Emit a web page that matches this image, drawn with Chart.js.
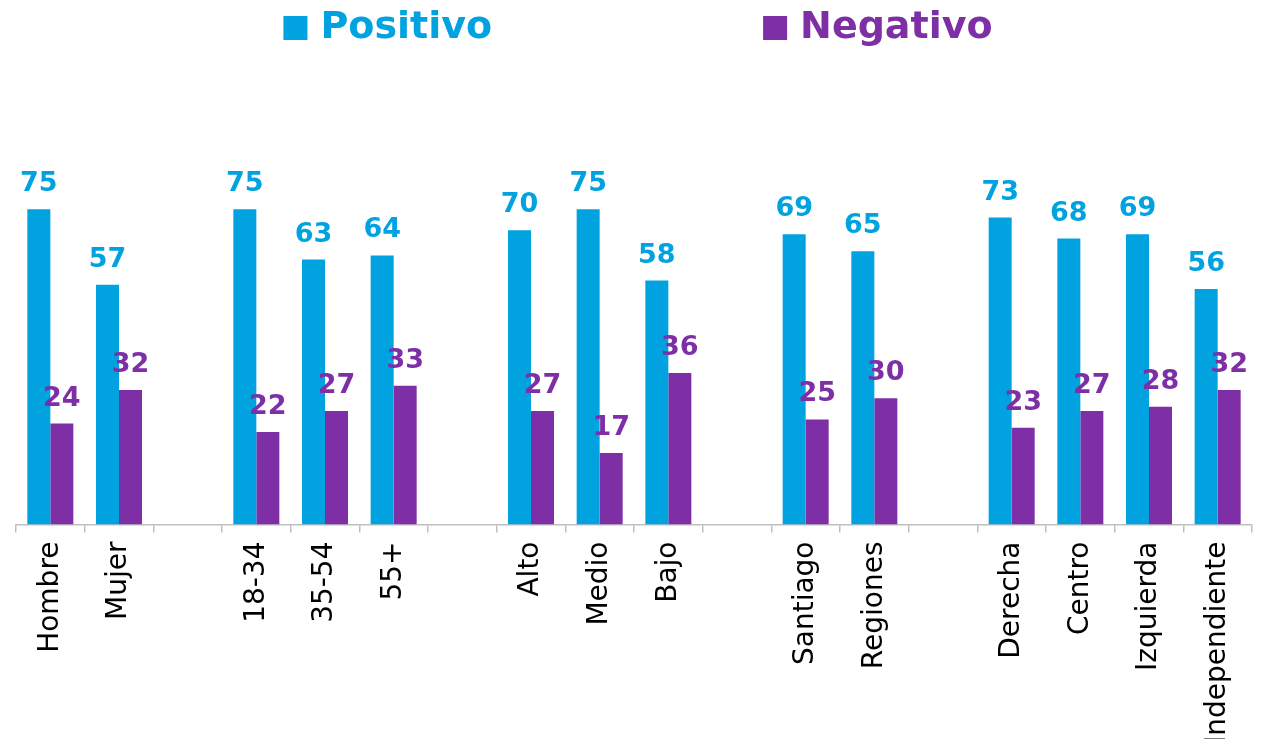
<!DOCTYPE html>
<html>
<head>
<meta charset="utf-8">
<script src="https://cdn.jsdelivr.net/npm/chart.js@4/dist/chart.umd.min.js"></script>
<style>
  html, body { margin: 0; padding: 0; background: #ffffff; }
  #wrap { width: 1261px; height: 739px; position: relative; }
</style>
</head>
<body>
<div id="wrap"><canvas id="c"></canvas></div>
<script>
const categories = ["Hombre", "Mujer", "", "18-34", "35-54", "55+", "", "Alto", "Medio", "Bajo", "", "Santiago", "Regiones", "", "Derecha", "Centro", "Izquierda", "Independiente"];
const positivo = [75, 57, null, 75, 63, 64, null, 70, 75, 58, null, 69, 65, null, 73, 68, 69, 56];
const negativo = [24, 32, null, 22, 27, 33, null, 27, 17, 36, null, 25, 30, null, 23, 27, 28, 32];
const seriesNames = ["Positivo", "Negativo"];
const seriesColors = ["#00A3E0", "#7E2FA6"];

const valueLabels = {
  id: 'valueLabels',
  afterDatasetsDraw(chart) {
    const ctx = chart.ctx;
    ctx.save();
    ctx.font = 'bold 27px "DejaVu Sans"';
    ctx.textAlign = 'center';
    ctx.textBaseline = 'alphabetic';
    chart.data.datasets.forEach((ds, di) => {
      const meta = chart.getDatasetMeta(di);
      ctx.fillStyle = ds.backgroundColor;
      meta.data.forEach((bar, i) => {
        const v = ds.data[i];
        if (v === null || v === undefined) return;
        ctx.fillText(String(v), bar.x, bar.y - 18);
      });
    });
    ctx.restore();
  }
};

const topLegend = {
  id: 'topLegend',
  afterDraw(chart) {
    const ctx = chart.ctx;
    ctx.save();
    ctx.font = 'bold 38px "DejaVu Sans"';
    ctx.textBaseline = 'alphabetic';
    ctx.textAlign = 'left';
    const boxW = 24, boxH = 24, gapText = 13, gapItems = 271;
    const widths = chart.data.datasets.map(ds => boxW + gapText + ctx.measureText(ds.label).width);
    const total = widths.reduce((a, b) => a + b, 0) + gapItems * (widths.length - 1);
    let x = chart.width / 2 + 7.5 - total / 2;
    chart.data.datasets.forEach((ds, i) => {
      ctx.fillStyle = ds.backgroundColor;
      ctx.fillRect(x, 16, boxW, boxH);
      ctx.fillText(ds.label, x + boxW + gapText, 38);
      x += widths[i] + gapItems;
    });
    ctx.restore();
  }
};

new Chart(document.getElementById('c'), {
  type: 'bar',
  data: {
    labels: categories,
    datasets: [
      { label: seriesNames[0], data: positivo, backgroundColor: seriesColors[0] },
      { label: seriesNames[1], data: negativo, backgroundColor: seriesColors[1] }
    ]
  },
  options: {
    responsive: true,
    maintainAspectRatio: false,
    animation: false,
    categoryPercentage: 0.67,
    barPercentage: 1.0,
    layout: { padding: { top: 104, left: 16, right: 9, bottom: 0 } },
    plugins: {
      legend: { display: false },
      tooltip: { enabled: false }
    },
    scales: {
      x: {
        grid: { display: true, drawOnChartArea: false, drawTicks: true, tickLength: 8, color: '#bfbfbf', lineWidth: 1.5, offset: true },
        border: { display: true, color: '#bfbfbf', width: 1.5 },
        ticks: {
          autoSkip: false, minRotation: 90, maxRotation: 90, padding: 9,
          color: '#000000', font: { family: '"DejaVu Sans"', size: 28 }
        },
        afterFit(scale) { scale.height = 214.5; }
      },
      y: {
        display: false,
        min: 0,
        max: 100
      }
    }
  },
  plugins: [valueLabels, topLegend]
});
</script>
</body>
</html>
